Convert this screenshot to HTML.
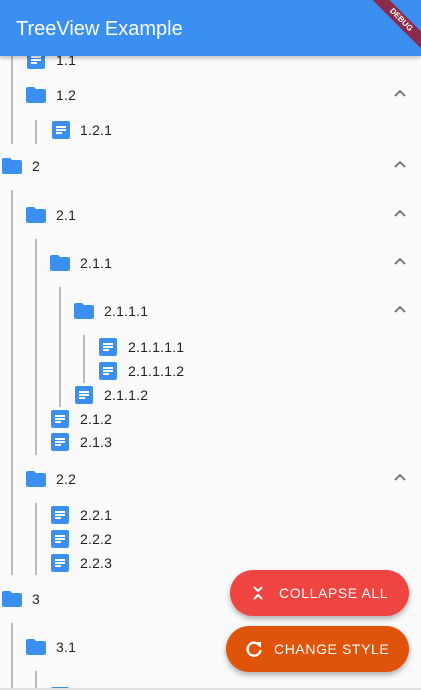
<!DOCTYPE html>
<html style="overflow:hidden"><head><meta charset="utf-8"><style>
html,body{height:690px}
body{margin:0;width:421px;height:690px;overflow:hidden;background:#fafafa;font-family:"Liberation Sans",sans-serif;position:relative}
.l{position:absolute;width:2px;background:#bdbdbd}
.d{position:absolute;width:18px;height:18px;background:#3a8ff0;border-radius:2px;margin-top:-9px}
.d i{position:absolute;left:4px;height:2px;background:#fff}
.f{position:absolute;width:20px;height:16px;margin-top:-8px}
.t{position:absolute;font-size:14px;color:#222;margin-top:-8px;line-height:16px;letter-spacing:.2px}
.c{position:absolute;left:394px;margin-top:-6px}
</style></head><body>
<svg width="0" height="0" style="position:absolute"><defs>
<symbol id="fo" viewBox="0 0 20 16"><path d="M2 0h6l2 2h8a2 2 0 0 1 2 2v10a2 2 0 0 1-2 2H2a2 2 0 0 1-2-2V2a2 2 0 0 1 2-2z" fill="#3a8ff0"/></symbol>
<symbol id="ch" viewBox="0 0 12 8"><path d="M1 7l5-5 5 5" fill="none" stroke="#666" stroke-width="1.6"/></symbol>
</defs></svg>

<div class="l" style="left:11px;top:56px;height:88px"></div>
<div class="l" style="left:35px;top:120px;height:24px"></div>
<div class="l" style="left:11px;top:190px;height:385px"></div>
<div class="l" style="left:35px;top:239px;height:216px"></div>
<div class="l" style="left:59px;top:287px;height:120px"></div>
<div class="l" style="left:83px;top:335px;height:48px"></div>
<div class="l" style="left:35px;top:503px;height:72px"></div>
<div class="l" style="left:11px;top:623px;height:67px"></div>
<div class="l" style="left:35px;top:671px;height:19px"></div>

<div class="d" style="left:27px;top:60px"><i style="top:5px;width:10px"></i><i style="top:8px;width:10px"></i><i style="top:11px;width:6px"></i></div><div class="t" style="left:56px;top:60px">1.1</div>
<svg class="f" style="left:26px;top:95px"><use href="#fo"/></svg><div class="t" style="left:56px;top:95px">1.2</div><svg class="c" width="12" height="8" style="top:95px"><use href="#ch"/></svg>
<div class="d" style="left:52px;top:130px"><i style="top:5px;width:10px"></i><i style="top:8px;width:10px"></i><i style="top:11px;width:6px"></i></div><div class="t" style="left:80px;top:130px">1.2.1</div>
<svg class="f" style="left:2px;top:166px"><use href="#fo"/></svg><div class="t" style="left:32px;top:166px">2</div><svg class="c" width="12" height="8" style="top:166px"><use href="#ch"/></svg>
<svg class="f" style="left:26px;top:215px"><use href="#fo"/></svg><div class="t" style="left:56px;top:215px">2.1</div><svg class="c" width="12" height="8" style="top:215px"><use href="#ch"/></svg>
<svg class="f" style="left:50px;top:263px"><use href="#fo"/></svg><div class="t" style="left:80px;top:263px">2.1.1</div><svg class="c" width="12" height="8" style="top:263px"><use href="#ch"/></svg>
<svg class="f" style="left:74px;top:311px"><use href="#fo"/></svg><div class="t" style="left:104px;top:311px">2.1.1.1</div><svg class="c" width="12" height="8" style="top:311px"><use href="#ch"/></svg>
<div class="d" style="left:99px;top:347px"><i style="top:5px;width:10px"></i><i style="top:8px;width:10px"></i><i style="top:11px;width:6px"></i></div><div class="t" style="left:128px;top:347px">2.1.1.1.1</div>
<div class="d" style="left:99px;top:371px"><i style="top:5px;width:10px"></i><i style="top:8px;width:10px"></i><i style="top:11px;width:6px"></i></div><div class="t" style="left:128px;top:371px">2.1.1.1.2</div>
<div class="d" style="left:75px;top:395px"><i style="top:5px;width:10px"></i><i style="top:8px;width:10px"></i><i style="top:11px;width:6px"></i></div><div class="t" style="left:104px;top:395px">2.1.1.2</div>
<div class="d" style="left:51px;top:419px"><i style="top:5px;width:10px"></i><i style="top:8px;width:10px"></i><i style="top:11px;width:6px"></i></div><div class="t" style="left:80px;top:419px">2.1.2</div>
<div class="d" style="left:51px;top:442px"><i style="top:5px;width:10px"></i><i style="top:8px;width:10px"></i><i style="top:11px;width:6px"></i></div><div class="t" style="left:80px;top:442px">2.1.3</div>
<svg class="f" style="left:26px;top:479px"><use href="#fo"/></svg><div class="t" style="left:56px;top:479px">2.2</div><svg class="c" width="12" height="8" style="top:479px"><use href="#ch"/></svg>
<div class="d" style="left:51px;top:515px"><i style="top:5px;width:10px"></i><i style="top:8px;width:10px"></i><i style="top:11px;width:6px"></i></div><div class="t" style="left:80px;top:515px">2.2.1</div>
<div class="d" style="left:51px;top:539px"><i style="top:5px;width:10px"></i><i style="top:8px;width:10px"></i><i style="top:11px;width:6px"></i></div><div class="t" style="left:80px;top:539px">2.2.2</div>
<div class="d" style="left:51px;top:563px"><i style="top:5px;width:10px"></i><i style="top:8px;width:10px"></i><i style="top:11px;width:6px"></i></div><div class="t" style="left:80px;top:563px">2.2.3</div>
<svg class="f" style="left:2px;top:599px"><use href="#fo"/></svg><div class="t" style="left:32px;top:599px">3</div>
<svg class="f" style="left:26px;top:647px"><use href="#fo"/></svg><div class="t" style="left:56px;top:647px">3.1</div>
<div class="d" style="left:51px;top:696px"></div>
<div style="position:absolute;left:0;top:688px;width:421px;height:2px;background:#e0e0e0"></div>

<div style="position:absolute;left:0;top:0;width:421px;height:56px;background:#3a8ff0;box-shadow:0 2px 4px rgba(0,0,0,.25);overflow:hidden">
<div style="position:absolute;left:16px;top:17px;font-size:20px;color:#fff;line-height:24px">TreeView Example</div>
<div style="position:absolute;left:361px;top:14px;width:80px;height:12px;background:#8b2a4a;transform:rotate(45deg);color:#fff;font-size:8px;font-weight:bold;text-align:center;line-height:12px">DEBUG</div>
</div>

<div style="position:absolute;left:230px;top:570px;width:179px;height:46px;border-radius:23px;background:#f04440;box-shadow:0 3px 6px rgba(0,0,0,.3);color:#fff;font-size:14px;letter-spacing:0.6px;line-height:46px">
<svg style="position:absolute;left:22px;top:15px" width="12" height="16" viewBox="0 0 12 16"><path d="M2 2l4 4 4-4M2 14l4-4 4 4" fill="none" stroke="#fff" stroke-width="2"/></svg>
<span style="position:absolute;left:49px">COLLAPSE ALL</span></div>
<div style="position:absolute;left:226px;top:626px;width:183px;height:46px;border-radius:23px;background:#e0540a;box-shadow:0 3px 6px rgba(0,0,0,.3);color:#fff;font-size:14px;letter-spacing:0.6px;line-height:46px">
<svg style="position:absolute;left:19px;top:14px" width="18" height="18" viewBox="0 0 18 18"><path d="M14 5A6.5 6.5 0 1 0 15.5 10" fill="none" stroke="#fff" stroke-width="2.4"/><path d="M10 2h6v6z" fill="#fff"/></svg>
<span style="position:absolute;left:48px">CHANGE STYLE</span></div>
</body></html>
